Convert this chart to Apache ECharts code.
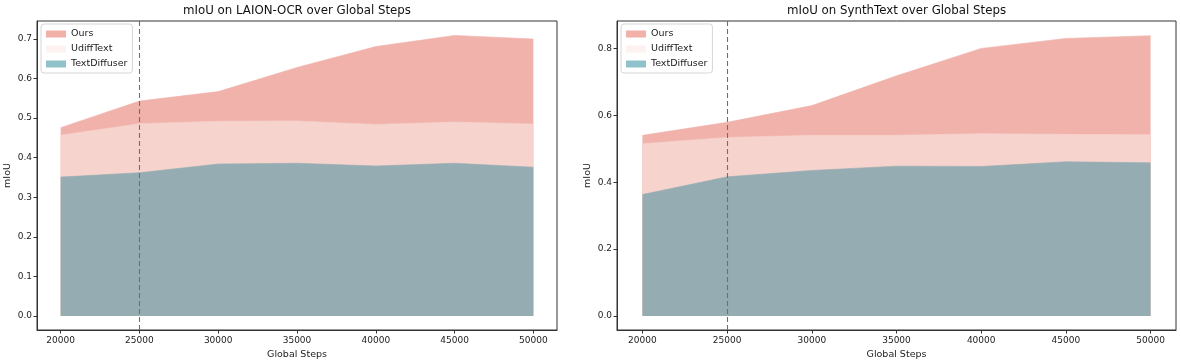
<!DOCTYPE html>
<html>
<head>
<meta charset="utf-8">
<script src="https://cdn.jsdelivr.net/npm/echarts@6/dist/echarts.min.js"></script>
<style>html,body{margin:0;padding:0;background:#fff}#c{width:1181px;height:363px}</style>
</head>
<body>
<div id="c"></div>
<script>
// ---- data ----
const steps = [20000, 25000, 30000, 35000, 40000, 45000, 50000];
const xTicks = [20000, 25000, 30000, 35000, 40000, 45000, 50000];
const laionOurs = [0.476, 0.543, 0.567, 0.628, 0.681, 0.709, 0.700];
const laionUdiff = [0.457, 0.486, 0.492, 0.493, 0.484, 0.490, 0.485];
const laionTD = [0.351, 0.362, 0.384, 0.386, 0.379, 0.386, 0.376];
const synthOurs = [0.540, 0.579, 0.629, 0.718, 0.800, 0.830, 0.838];
const synthUdiff = [0.515, 0.534, 0.540, 0.540, 0.545, 0.543, 0.542];
const synthTD = [0.363, 0.416, 0.435, 0.448, 0.447, 0.461, 0.458];
const laionYTicks = [0, 0.1, 0.2, 0.3, 0.4, 0.5, 0.6, 0.7];
const synthYTicks = [0, 0.2, 0.4, 0.6, 0.8];
const seriesNames = ['Ours', 'UdiffText', 'TextDiffuser'];
const markStep = 25000;
const titles = ['mIoU on LAION-OCR over Global Steps', 'mIoU on SynthText over Global Steps'];

const FONT = 'DejaVu Sans';
const areaColors = ['#F0B2AB', '#F6D3CD', '#95ADB2'];
const legendColors = ['#F1B1A9', '#FDF2EF', '#92C2C9'];

const pairs = (ys) => steps.map((s, i) => [s, ys[i]]);

const grids = [
  {left: 37, top: 21, width: 520, height: 309},
  {left: 617, top: 21, width: 559, height: 309}
];

function xAxisFor(idx) {
  return {
    type: 'value', gridIndex: idx, min: 18500, max: 51500,
    name: 'Global Steps', nameLocation: 'middle', nameGap: 20,
    nameTextStyle: {fontFamily: FONT, fontSize: 9.5, color: '#222'},
    splitLine: {show: false},
    axisLine: {show: true, onZero: false, lineStyle: {color: '#333', width: 1}},
    axisTick: {show: true, length: 3.5, lineStyle: {color: '#333'}, customValues: xTicks},
    axisLabel: {fontFamily: FONT, fontSize: 9, color: '#222', margin: 6, customValues: xTicks,
      formatter: v => String(v)}
  };
}
function yAxisFor(idx, min, max, ticks) {
  return {
    type: 'value', gridIndex: idx, min: min, max: max,
    name: 'mIoU', nameLocation: 'middle', nameGap: 24, nameRotate: 90,
    nameTextStyle: {fontFamily: FONT, fontSize: 9.5, color: '#222'},
    splitLine: {show: false},
    axisLine: {show: true, lineStyle: {color: '#333', width: 1}},
    axisTick: {show: true, length: 3.5, lineStyle: {color: '#333'}, customValues: ticks},
    axisLabel: {fontFamily: FONT, fontSize: 9, color: '#222', margin: 5, customValues: ticks,
      formatter: v => v.toFixed(1)}
  };
}

function areaSeries(name, ci, data, gi, withMark) {
  const s = {
    name: name, type: 'line', xAxisIndex: gi, yAxisIndex: gi,
    data: pairs(data), symbol: 'none', showSymbol: false,
    color: areaColors[ci],
    lineStyle: {width: 0.6, color: areaColors[ci]},
    areaStyle: {color: areaColors[ci], opacity: 1, origin: 0},
    silent: true, animation: false
  };
  if (withMark) {
    s.markLine = {
      silent: true, symbol: 'none', animation: false,
      label: {show: false},
      lineStyle: {type: [5, 3], color: '#6f6f6f', width: 1.1},
      data: [{xAxis: markStep}]
    };
  }
  return s;
}

function legendFor(left) {
  return {
    orient: 'vertical', left: left, top: 24,
    itemWidth: 20, itemHeight: 7, itemGap: 5,
    padding: [5, 5, 4, 5],
    backgroundColor: 'rgba(255,255,255,0.8)', borderColor: '#d6d6d6', borderWidth: 1, borderRadius: 3,
    textStyle: {fontFamily: FONT, fontSize: 9.5, color: '#222'},
    selectedMode: false,
    data: seriesNames.map((n, i) => ({name: n, icon: 'rect', itemStyle: {color: legendColors[i], borderWidth: 0}}))
  };
}

const chart = echarts.init(document.getElementById('c'), null, {renderer: 'canvas'});
const option = {
  animation: false,
  backgroundColor: '#fff',
  grid: grids.map(g => Object.assign({show: true, borderColor: '#333', borderWidth: 1, backgroundColor: 'transparent', containLabel: false, outerBoundsMode: 'none'}, g)),
  xAxis: [xAxisFor(0), xAxisFor(1)],
  yAxis: [yAxisFor(0, -0.0355, 0.7455, laionYTicks), yAxisFor(1, -0.042, 0.882, synthYTicks)],
  legend: [legendFor(41), legendFor(621)],
  graphic: [
    {type: 'text', x: 297, y: 5, style: {text: titles[0], fontFamily: FONT, fontSize: 11.8, fill: '#111', textAlign: 'center'}},
    {type: 'text', x: 896.5, y: 5, style: {text: titles[1], fontFamily: FONT, fontSize: 11.8, fill: '#111', textAlign: 'center'}}
  ],
  series: [
    areaSeries('Ours', 0, laionOurs, 0, false),
    areaSeries('UdiffText', 1, laionUdiff, 0, false),
    areaSeries('TextDiffuser', 2, laionTD, 0, true),
    areaSeries('Ours', 0, synthOurs, 1, false),
    areaSeries('UdiffText', 1, synthUdiff, 1, false),
    areaSeries('TextDiffuser', 2, synthTD, 1, true)
  ]
};
chart.setOption(option);
</script>
</body>
</html>
